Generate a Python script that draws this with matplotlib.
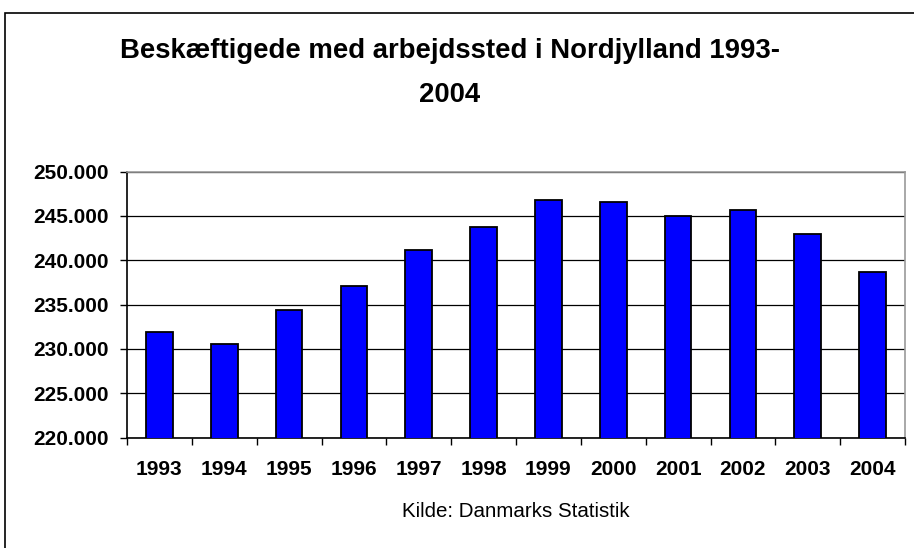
import matplotlib.pyplot as plt
from matplotlib.patches import Rectangle
from matplotlib.ticker import FuncFormatter, MultipleLocator

# Beskæftigede med arbejdssted i Nordjylland
years = ["1993", "1994", "1995", "1996", "1997", "1998",
         "1999", "2000", "2001", "2002", "2003", "2004"]
employed = [231900, 230600, 234400, 237100, 241200, 243700,
            246800, 246600, 245000, 245700, 243000, 238700]

plt.rcParams['font.family'] = ['Liberation Sans', 'DejaVu Sans']

fig = plt.figure(figsize=(9.14, 5.48), dpi=100)
W, H = 914, 548

# ramme rundt om diagrammet
fig.patches.append(Rectangle((5 / W, -0.05), 1.0, 1 - 13 / H + 0.05,
                             transform=fig.transFigure, fill=False,
                             edgecolor='black', linewidth=1.2))

ax = fig.add_axes([127 / W, 1 - 437.5 / H, (905 - 127) / W, (437.5 - 171.5) / H])

x = list(range(len(years)))
ax.bar(x, employed, width=0.41, color='#0000FF', edgecolor='black',
       linewidth=1.3, zorder=3)

ax.set_ylim(220000, 250000)
ax.set_xlim(-0.5, len(years) - 0.5)
ax.yaxis.set_major_locator(MultipleLocator(5000))
ax.yaxis.set_major_formatter(FuncFormatter(lambda v, p: f"{v:,.0f}".replace(",", ".")))
ax.grid(axis='y', color='black', linewidth=0.9, zorder=1)

# akse-ticks mellem kategorierne
ax.set_xticks([i - 0.5 for i in range(len(years) + 1)])
ax.set_xticklabels([])
ax.set_xticks(x, minor=True)
ax.set_xticklabels(years, minor=True, fontsize=15, fontweight='bold')
ax.tick_params(axis='x', which='minor', length=0, pad=16.5)
ax.tick_params(axis='x', which='major', length=5, width=1, direction='out')
ax.tick_params(axis='y', length=5, width=1, direction='out', labelsize=15, pad=8)
for lbl in ax.get_yticklabels():
    lbl.set_fontweight('bold')

for side in ['top', 'right']:
    ax.spines[side].set_color('#999999')
    ax.spines[side].set_linewidth(1.2)
for side in ['left', 'bottom']:
    ax.spines[side].set_color('black')
    ax.spines[side].set_linewidth(1.2)

fig.text(450 / W, 1 - 58.3 / H, "Beskæftigede med arbejdssted i Nordjylland 1993-",
         ha='center', va='baseline', fontsize=19.8, fontweight='bold')
fig.text(450 / W, 1 - 101.7 / H, "2004",
         ha='center', va='baseline', fontsize=19.8, fontweight='bold')
fig.text(516 / W, 1 - 517 / H, "Kilde: Danmarks Statistik",
         ha='center', va='baseline', fontsize=14.8)

fig.savefig("out.png", dpi=100)
